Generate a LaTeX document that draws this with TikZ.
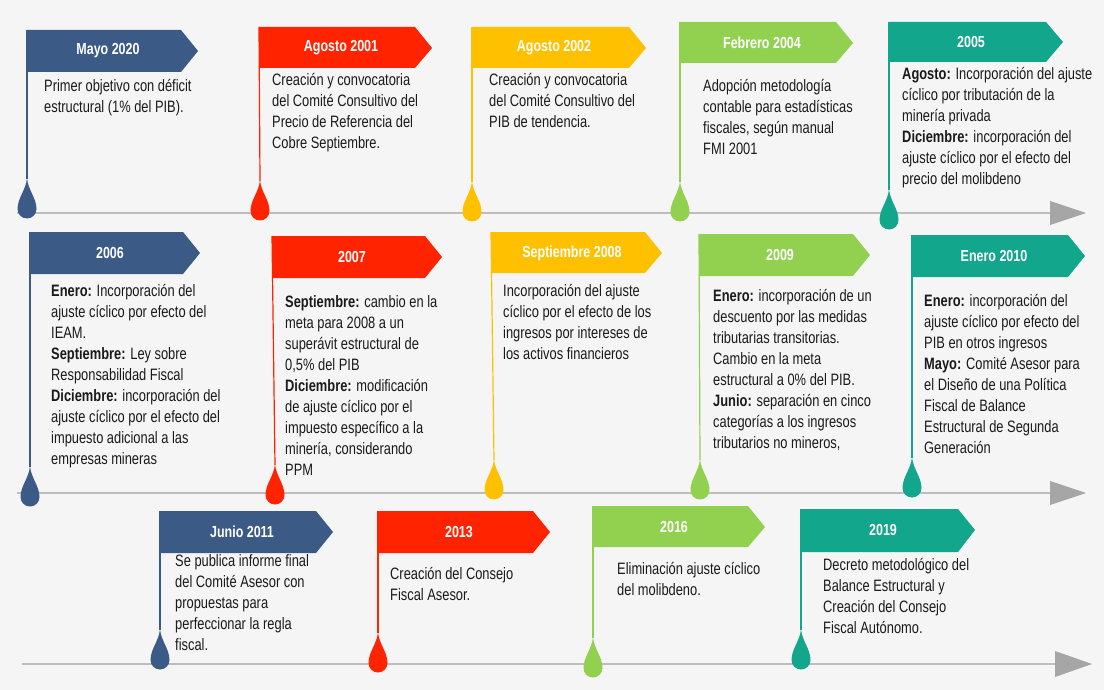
\documentclass[tikz,border=0pt]{standalone}
\usepackage{fontspec}
\setmainfont{Liberation Sans}[FakeStretch=0.78]
\usepackage{xcolor}
\definecolor{azul}{HTML}{3B5A86}
\definecolor{rojo}{HTML}{FF2300}
\definecolor{amarillo}{HTML}{FFC000}
\definecolor{verde}{HTML}{92D050}
\definecolor{turquesa}{HTML}{12A68C}
\definecolor{linea}{HTML}{BDBDBD}
\definecolor{flecha}{HTML}{A6A6A6}
\definecolor{fondo}{HTML}{F5F5F5}
\definecolor{texto}{HTML}{1A1A1A}
\tikzset{
  gota/.pic={\fill (0,-31) .. controls (1,-19) and (9.5,-11) .. (9.5,0) arc[start angle=0,end angle=-180,radius=9.5pt] .. controls (-9.5,-11) and (-1,-19) .. (0,-31) -- cycle;}
}

\begin{document}
\begin{tikzpicture}[x=1pt,y=-1pt,
  bandera/.style={fill=#1},
  titulo/.style={text=white,inner sep=0,font=\fontsize{16}{18}\selectfont\bfseries},
  cuerpo/.style={anchor=north west,align=left,inner sep=0,text=texto,font=\fontsize{16.5}{21}\selectfont},
  tallo/.style={draw=#1,line width=1.2pt},
  eje/.style={draw=linea,line width=2.5pt},
  punta/.style={fill=flecha}]
\useasboundingbox (0,0) rectangle (1104,690);
\fill[fondo] (0,0) rectangle (1104,690);

% lineas de tiempo
\coordinate (e1) at (17,213); \coordinate (f1) at (1050,213);
\coordinate (e2) at (17,493); \coordinate (f2) at (1050,493);
\coordinate (e3) at (22,664); \coordinate (f3) at (1055,664);
\draw[eje] (e1) -- (f1);
\draw[eje] (e2) -- (f2);
\draw[eje] (e3) -- (f3);
\fill[punta] (f1) ++(0,-12) -- ++(36,12) -- ++(-36,12) -- cycle;
\fill[punta] (f2) ++(0,-12) -- ++(36,12) -- ++(-36,12) -- cycle;
\fill[punta] (f3) ++(0,-13) -- ++(37,13) -- ++(-37,13) -- cycle;

% tallos
\coordinate (s1) at (27,30);   \coordinate (g1) at (27,179);
\coordinate (s2) at (259,27);  \coordinate (g2) at (260,181);
\coordinate (s3) at (472,27);  \coordinate (g3) at (472,182);
\coordinate (s4) at (680,22);  \coordinate (g4) at (680,182);
\coordinate (s5) at (889,22);  \coordinate (g5) at (889,190);
\coordinate (s6) at (30,232);  \coordinate (g6) at (30,467);
\coordinate (s7) at (272,236); \coordinate (g7) at (275,465);
\coordinate (s8) at (491,232); \coordinate (g8) at (494,460);
\coordinate (s9) at (699,234); \coordinate (g9) at (700,460);
\coordinate (s10) at (912,235); \coordinate (g10) at (912,458);
\coordinate (s11) at (160,511); \coordinate (g11) at (160,630);
\coordinate (s12) at (378,511); \coordinate (g12) at (378,633);
\coordinate (s13) at (593,506); \coordinate (g13) at (593,638);
\coordinate (s14) at (801,509); \coordinate (g14) at (801,630);
\draw[tallo=azul] (s1) -- (g1);
\draw[tallo=rojo] (s2) -- (g2);
\draw[tallo=amarillo] (s3) -- (g3);
\draw[tallo=verde] (s4) -- (g4);
\draw[tallo=turquesa] (s5) -- (g5);
\draw[tallo=azul] (s6) -- (g6);
\draw[tallo=rojo] (s7) -- (g7);
\draw[tallo=amarillo] (s8) -- (g8);
\draw[tallo=verde] (s9) -- (g9);
\draw[tallo=turquesa] (s10) -- (g10);
\draw[tallo=azul] (s11) -- (g11);
\draw[tallo=rojo] (s12) -- (g12);
\draw[tallo=verde] (s13) -- (g13);
\draw[tallo=turquesa] (s14) -- (g14);

% gotas
\pic[color=azul] at (27,209) {gota};
\pic[color=rojo] at (260,211) {gota};
\pic[color=amarillo] at (472,212) {gota};
\pic[color=verde] at (680,212) {gota};
\pic[color=turquesa] at (889,220) {gota};
\pic[color=azul] at (30,497) {gota};
\pic[color=rojo] at (275,495) {gota};
\pic[color=amarillo] at (494,490) {gota};
\pic[color=verde] at (700,490) {gota};
\pic[color=turquesa] at (912,488) {gota};
\pic[color=azul] at (160,660) {gota};
\pic[color=rojo] at (378,663) {gota};
\pic[color=verde] at (593,668) {gota};
\pic[color=turquesa] at (801,660) {gota};

% banderas
\fill[bandera=azul] (27,30) -- (181,30) -- (198,51) -- (181,72) -- (27,72) -- cycle;
\fill[bandera=rojo] (259,27) -- (415,27) -- (432,48) -- (415,68) -- (259,68) -- cycle;
\fill[bandera=amarillo] (472,27) -- (629,27) -- (646,48) -- (629,68) -- (472,68) -- cycle;
\fill[bandera=verde] (680,22) -- (836,22) -- (853,43) -- (836,63) -- (680,63) -- cycle;
\fill[bandera=turquesa] (889,22) -- (1046,22) -- (1063,42) -- (1046,62) -- (889,62) -- cycle;
\fill[bandera=azul] (30,232) -- (183,232) -- (200,253) -- (183,274) -- (30,274) -- cycle;
\fill[bandera=rojo] (272,236) -- (425,236) -- (442,257) -- (425,278) -- (272,278) -- cycle;
\fill[bandera=amarillo] (491,232) -- (645,232) -- (662,253) -- (645,273) -- (491,273) -- cycle;
\fill[bandera=verde] (699,234) -- (853,234) -- (870,255) -- (853,276) -- (699,276) -- cycle;
\fill[bandera=turquesa] (912,235) -- (1068,235) -- (1085,256) -- (1068,277) -- (912,277) -- cycle;
\fill[bandera=azul] (160,511) -- (316,511) -- (333,532) -- (316,553) -- (160,553) -- cycle;
\fill[bandera=rojo] (378,511) -- (533,511) -- (550,532) -- (533,553) -- (378,553) -- cycle;
\fill[bandera=verde] (593,506) -- (748,506) -- (765,527) -- (748,547) -- (593,547) -- cycle;
\fill[bandera=turquesa] (801,509) -- (958,509) -- (975,530) -- (958,552) -- (801,552) -- cycle;

% titulos
\node[titulo] (n1) at (108,51) {Mayo 2020};
\node[titulo] (n2) at (341,48) {Agosto 2001};
\node[titulo] (n3) at (554,48) {Agosto 2002};
\node[titulo] (n4) at (762,43) {Febrero 2004};
\node[titulo] (n5) at (971,42) {2005};
\node[titulo] (n6) at (110,253) {2006};
\node[titulo] (n7) at (352,257) {2007};
\node[titulo] (n8) at (572,253) {Septiembre 2008};
\node[titulo] (n9) at (780,255) {2009};
\node[titulo] (n10) at (994,256) {Enero 2010};
\node[titulo] (n11) at (242,532) {Junio 2011};
\node[titulo] (n12) at (459,532) {2013};
\node[titulo] (n13) at (674,527) {2016};
\node[titulo] (n14) at (883,530) {2019};

% textos
\node[cuerpo] (t1) at (44,79) {Primer objetivo con déficit\\estructural (1\% del PIB).};
\node[cuerpo] (t2) at (272,73) {Creación y convocatoria\\del Comité Consultivo del\\Precio de Referencia del\\Cobre Septiembre.};
\node[cuerpo] (t3) at (489,73) {Creación y convocatoria\\del Comité Consultivo del\\PIB de tendencia.};
\node[cuerpo] (t4) at (703,79) {Adopción metodología\\contable para estadísticas\\fiscales, según manual\\FMI 2001};
\node[cuerpo] (t5) at (902,67) {\textbf{Agosto:} Incorporación del ajuste\\cíclico por tributación de la\\minería privada\\\textbf{Diciembre:} incorporación del\\ajuste cíclico por el efecto del\\precio del molibdeno};
\node[cuerpo] (t6) at (51,284) {\textbf{Enero:} Incorporación del\\ajuste cíclico por efecto del\\IEAM.\\\textbf{Septiembre:} Ley sobre\\Responsabilidad Fiscal\\\textbf{Diciembre:} incorporación del\\ajuste cíclico por el efecto del\\impuesto adicional a las\\empresas mineras};
\node[cuerpo] (t7) at (285,295) {\textbf{Septiembre:} cambio en la\\meta para 2008 a un\\superávit estructural de\\0,5\% del PIB\\\textbf{Diciembre:} modificación\\de ajuste cíclico por el\\impuesto específico a la\\minería, considerando\\PPM};
\node[cuerpo] (t8) at (503,284) {Incorporación del ajuste\\cíclico por el efecto de los\\ingresos por intereses de\\los activos financieros};
\node[cuerpo] (t9) at (713,289) {\textbf{Enero:} incorporación de un\\descuento por las medidas\\tributarias transitorias.\\Cambio en la meta\\estructural a 0\% del PIB.\\\textbf{Junio:} separación en cinco\\categorías a los ingresos\\tributarios no mineros,};
\node[cuerpo] (t10) at (924,294) {\textbf{Enero:} incorporación del\\ajuste cíclico por efecto del\\PIB en otros ingresos\\\textbf{Mayo:} Comité Asesor para\\el Diseño de una Política\\Fiscal de Balance\\Estructural de Segunda\\Generación};
\node[cuerpo] (t11) at (175,554) {Se publica informe final\\del Comité Asesor con\\propuestas para\\perfeccionar la regla\\fiscal.};
\node[cuerpo] (t12) at (390,567) {Creación del Consejo\\Fiscal Asesor.};
\node[cuerpo] (t13) at (617,562) {Eliminación ajuste cíclico\\del molibdeno.};
\node[cuerpo] (t14) at (823,558) {Decreto metodológico del\\Balance Estructural y\\Creación del Consejo\\Fiscal Autónomo.};
\end{tikzpicture}
\end{document}
